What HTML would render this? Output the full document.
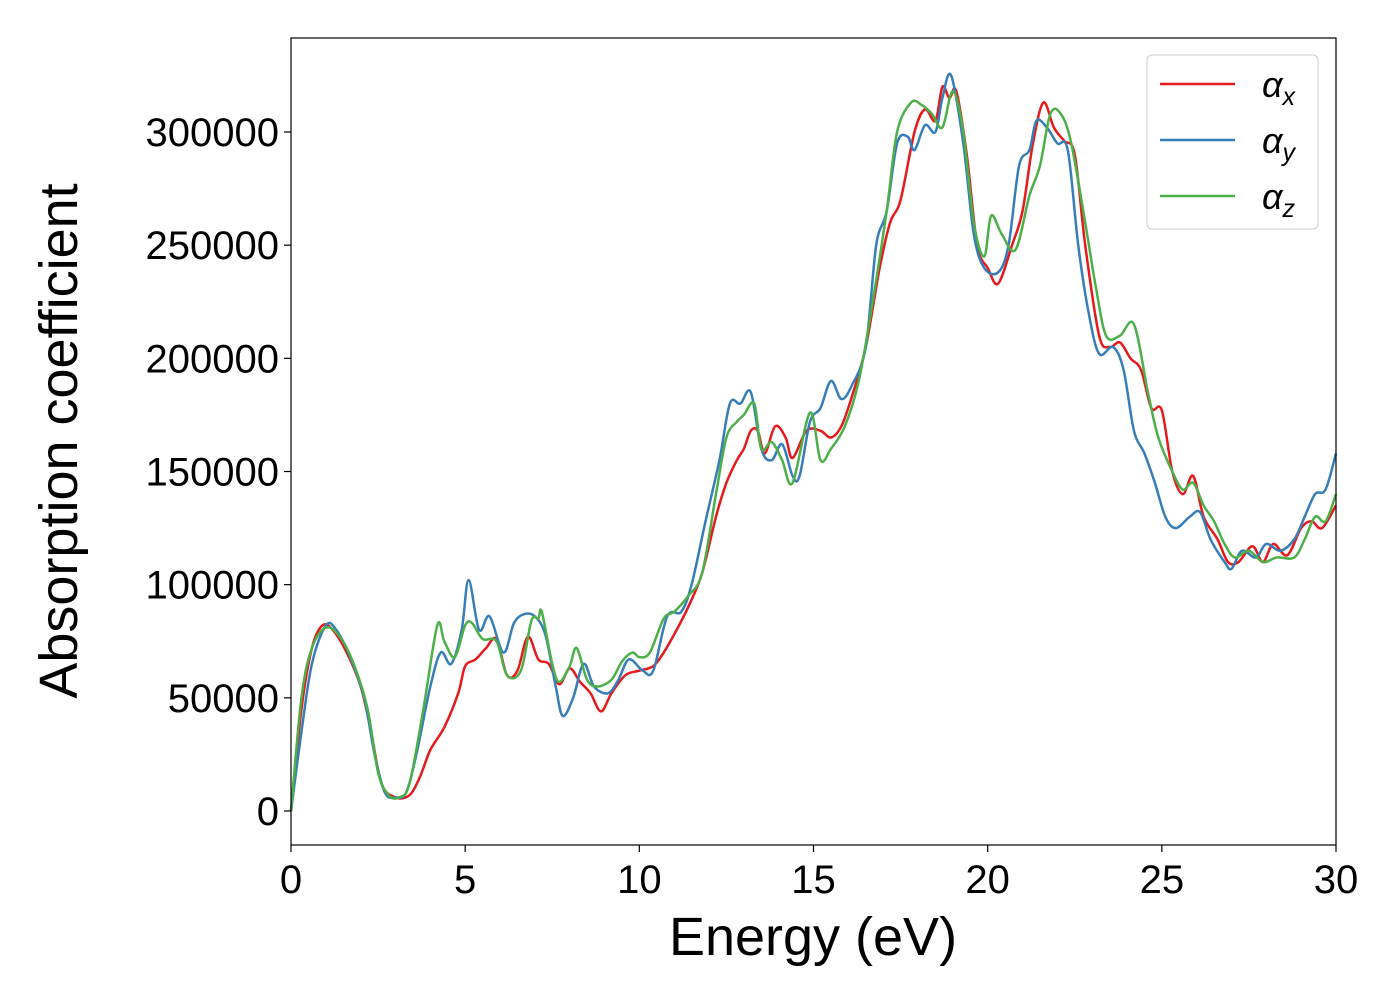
<!DOCTYPE html>
<html><head><meta charset="utf-8"><style>
html,body{margin:0;padding:0;background:#fff;}
svg{display:block;font-family:"Liberation Sans","DejaVu Sans",sans-serif;}
</style></head><body>
<svg id="chart" width="1400" height="1000" viewBox="0 0 1400 1000" xmlns="http://www.w3.org/2000/svg">
<rect width="1400" height="1000" fill="#fff"/>
<g id="plot"></g>
<g id="axes"></g>
<rect x="291" y="38" width="1045" height="807" fill="none" stroke="#000" stroke-width="1.2"/>
<text x="813" y="955" font-size="54" text-anchor="middle">Energy (eV)</text>
<text transform="translate(77,441) rotate(-90)" font-size="54" text-anchor="middle">Absorption coefficient</text>
<g>
<rect x="1147" y="55" width="171" height="174" rx="5" fill="#fff" stroke="#ccc" stroke-width="1"/>
<line x1="1160" y1="84" x2="1235" y2="84" stroke="#e41a1c" stroke-width="2.5"/>
<text x="1262" y="97" font-size="36" font-style="italic">α<tspan font-size="25" dy="8">x</tspan></text>
<line x1="1160" y1="140" x2="1235" y2="140" stroke="#377eb8" stroke-width="2.5"/>
<text x="1262" y="153" font-size="36" font-style="italic">α<tspan font-size="25" dy="8">y</tspan></text>
<line x1="1160" y1="196" x2="1235" y2="196" stroke="#4daf4a" stroke-width="2.5"/>
<text x="1262" y="209" font-size="36" font-style="italic">α<tspan font-size="25" dy="8">z</tspan></text>
</g>
</svg>
<script>
const xTicks = [0,5,10,15,20,25,30];
const yTicks = [0,50000,100000,150000,200000,250000,300000];
const exE = [0,0.3,0.6,0.9,1.2,1.6,2.0,2.3,2.6,3.0,3.4,3.7,4.0,4.4,4.8,5.0,5.3,5.6,5.9,6.2,6.5,6.8,7.1,7.4,7.7,8.0,8.3,8.6,8.9,9.2,9.6,10.0,10.4,10.7,11.0,11.4,11.8,12.2,12.5,12.8,13.0,13.2,13.4,13.6,13.9,14.2,14.4,14.8,15.2,15.5,15.8,16.1,16.5,16.9,17.2,17.5,17.9,18.2,18.5,18.7,18.9,19.1,19.4,19.7,20.0,20.3,20.7,21.0,21.3,21.6,21.9,22.2,22.5,22.8,23.2,23.5,23.8,24.1,24.4,24.7,25.0,25.3,25.6,25.9,26.2,26.6,26.9,27.2,27.6,27.9,28.2,28.6,29.0,29.3,29.6,30.0];
const exV = [0,45000,72000,82000,80000,70000,55000,35000,12000,6000,7000,15000,27000,37000,52000,64000,67000,72000,76000,60000,62000,77000,67000,65000,56000,63000,57000,52000,44000,52000,60000,62000,64000,70000,78000,90000,105000,130000,145000,155000,160000,168000,168000,158000,170000,165000,156000,168000,168000,165000,170000,183000,205000,240000,260000,270000,300000,310000,305000,320000,315000,318000,290000,250000,240000,233000,250000,265000,295000,313000,302000,296000,290000,250000,210000,205000,207000,200000,195000,178000,177000,150000,140000,148000,130000,120000,110000,110000,117000,110000,118000,113000,125000,128000,125000,135000];
const eyE = [0,0.3,0.6,1.0,1.3,1.7,2.1,2.4,2.7,3.0,3.3,3.6,4.0,4.3,4.6,4.9,5.1,5.4,5.7,6.1,6.4,6.7,7.0,7.3,7.6,7.8,8.1,8.4,8.7,9.1,9.4,9.7,10.1,10.4,10.8,11.2,11.5,11.9,12.3,12.6,12.9,13.2,13.5,13.8,14.1,14.4,14.6,14.9,15.2,15.5,15.8,16.1,16.5,16.8,17.1,17.4,17.7,17.9,18.2,18.5,18.7,18.95,19.3,19.6,19.9,20.3,20.6,20.9,21.2,21.4,21.7,22.0,22.3,22.6,22.9,23.2,23.6,23.9,24.2,24.5,24.8,25.1,25.4,25.8,26.1,26.4,26.8,27.0,27.3,27.7,28.0,28.4,28.8,29.1,29.4,29.7,30.0];
const eyV = [0,35000,65000,82000,80000,68000,50000,25000,8000,6000,8000,25000,55000,70000,65000,80000,102000,80000,86000,70000,83000,87000,86000,78000,55000,42000,50000,65000,55000,52000,58000,67000,62000,62000,86000,88000,100000,128000,155000,180000,180000,185000,160000,155000,162000,148000,148000,172000,178000,190000,182000,188000,205000,250000,265000,295000,298000,292000,303000,300000,315000,325000,295000,255000,240000,238000,250000,285000,292000,305000,302000,295000,292000,250000,220000,202000,205000,195000,168000,158000,145000,130000,125000,130000,132000,120000,110000,107000,115000,112000,118000,115000,120000,130000,140000,142000,158000];
const ezE = [0,0.3,0.6,1.0,1.4,1.8,2.2,2.5,2.8,3.1,3.4,3.8,4.2,4.4,4.7,5.0,5.2,5.5,5.9,6.2,6.6,6.9,7.1,7.2,7.5,7.7,8.0,8.2,8.5,8.8,9.2,9.5,9.8,10.0,10.3,10.7,11.0,11.4,11.8,12.2,12.5,12.8,13.0,13.3,13.5,13.8,14.1,14.4,14.9,15.2,15.5,15.9,16.3,16.7,17.1,17.4,17.8,18.1,18.4,18.7,19.0,19.3,19.6,19.9,20.1,20.4,20.8,21.2,21.5,21.8,22.1,22.4,22.8,23.1,23.4,23.8,24.2,24.6,24.9,25.3,25.6,25.9,26.2,26.5,26.8,27.1,27.5,27.9,28.3,28.8,29.1,29.4,29.7,30.0];
const ezV = [0,50000,72000,81000,77000,65000,45000,17000,7000,6000,12000,45000,82000,75000,68000,82000,83000,76000,75000,60000,62000,84000,85000,88000,65000,57000,64000,72000,58000,55000,58000,66000,70000,68000,70000,85000,88000,95000,105000,140000,165000,172000,175000,180000,160000,163000,155000,145000,176000,155000,160000,170000,190000,225000,265000,300000,313000,312000,308000,302000,318000,300000,260000,245000,263000,255000,248000,272000,285000,308000,308000,295000,260000,232000,210000,210000,215000,185000,165000,150000,142000,145000,135000,128000,118000,112000,115000,110000,112000,112000,120000,130000,128000,140000];

const X0=291, X1=1336, Y0=811, Y300=132;
function sx(e){return X0+(e-0)*(X1-X0)/30;}
function sy(v){return Y0-v*(Y0-Y300)/300000;}
const NS="http://www.w3.org/2000/svg";
const plot=document.getElementById('plot'), axes=document.getElementById('axes');

function smoothPath(E,V){
  const p=E.map((e,i)=>[sx(e),sy(V[i])]);
  let d='M'+p[0][0].toFixed(2)+','+p[0][1].toFixed(2);
  for(let i=0;i<p.length-1;i++){
    const a=p[Math.max(0,i-1)],b=p[i],c=p[i+1],n=p[Math.min(p.length-1,i+2)];
    const c1=[b[0]+(c[0]-a[0])/6,b[1]+(c[1]-a[1])/6];
    const c2=[c[0]-(n[0]-b[0])/6,c[1]-(n[1]-b[1])/6];
    d+=' C'+c1[0].toFixed(2)+','+c1[1].toFixed(2)+' '+c2[0].toFixed(2)+','+c2[1].toFixed(2)+' '+c[0].toFixed(2)+','+c[1].toFixed(2);
  }
  return d;
}
function addSeries(E,V,color,name){
  const path=document.createElementNS(NS,'path');
  path.setAttribute('d',smoothPath(E,V));
  path.setAttribute('fill','none');
  path.setAttribute('stroke',color);
  path.setAttribute('stroke-width','2.5');
  path.setAttribute('stroke-linejoin','round');
  
  
  plot.appendChild(path);
}
addSeries(exE,exV,'#e41a1c','series-alpha-x');
addSeries(eyE,eyV,'#377eb8','series-alpha-y');
addSeries(ezE,ezV,'#4daf4a','series-alpha-z');

xTicks.forEach(t=>{
  const l=document.createElementNS(NS,'line');
  l.setAttribute('x1',sx(t));l.setAttribute('x2',sx(t));
  l.setAttribute('y1',845);l.setAttribute('y2',852);
  l.setAttribute('stroke','#000');l.setAttribute('stroke-width','1.2');
  
  
  axes.appendChild(l);
  const tx=document.createElementNS(NS,'text');
  tx.setAttribute('x',sx(t));tx.setAttribute('y',893);
  tx.setAttribute('font-size','40');tx.setAttribute('text-anchor','middle');
  tx.textContent=t;
  
  
  axes.appendChild(tx);
});
yTicks.forEach(t=>{
  const l=document.createElementNS(NS,'line');
  l.setAttribute('x1',284);l.setAttribute('x2',291);
  l.setAttribute('y1',sy(t));l.setAttribute('y2',sy(t));
  l.setAttribute('stroke','#000');l.setAttribute('stroke-width','1.2');
  
  
  axes.appendChild(l);
  const tx=document.createElementNS(NS,'text');
  tx.setAttribute('x',279);tx.setAttribute('y',sy(t)+14);
  tx.setAttribute('font-size','40');tx.setAttribute('text-anchor','end');
  tx.textContent=t;
  
  
  axes.appendChild(tx);
});
</script>
</body></html>
